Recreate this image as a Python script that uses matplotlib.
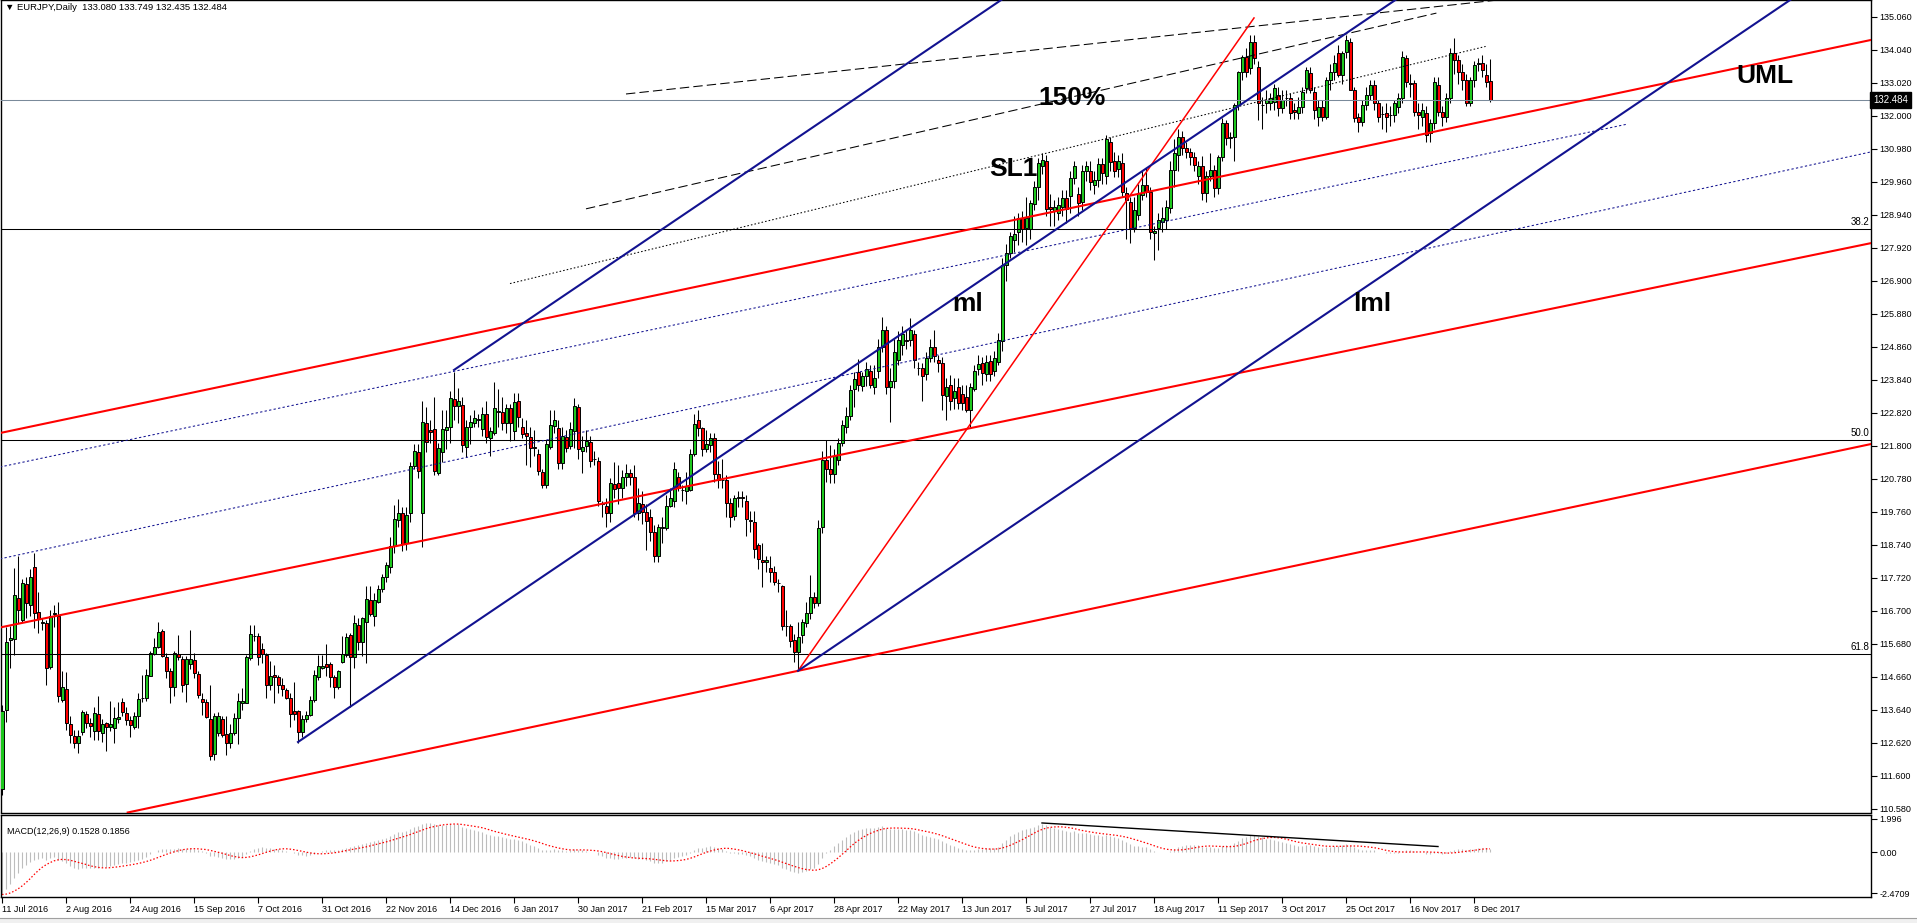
import numpy as np
import pandas as pd
import matplotlib
matplotlib.use('Agg')
import matplotlib.pyplot as plt

plt.rcParams['font.family'] = ['Liberation Sans', 'DejaVu Sans']

# ---------------- data ----------------
opens = [111.2,113.64,115.8,115.83,117.1,116.42,117.53,116.89,118.05,116.66,
116.35,116.32,114.96,116.6,116.56,113.95,114.28,113.21,112.84,112.63,
112.97,113.51,113.23,113.0,113.52,112.94,113.23,113.1,113.08,113.36,
113.88,113.56,113.33,113.11,113.44,114.02,114.0,114.7,115.37,115.58,
116.08,115.29,114.83,114.36,115.36,115.21,114.45,115.07,115.19,114.76,
113.97,113.88,113.36,112.28,112.92,113.36,112.9,112.61,112.92,113.39,
113.87,113.87,115.24,115.94,115.93,115.52,115.34,114.42,114.72,114.65,
114.42,114.26,114.02,113.61,113.61,112.97,113.36,113.49,113.95,114.65,
114.93,115.07,115.07,114.65,114.34,115.11,115.34,115.96,115.27,116.27,
115.75,116.37,117.04,116.56,116.99,117.37,117.74,118.05,118.71,119.51,
119.72,118.79,119.72,121.18,121.61,119.72,122.5,122.29,122.34,120.98,
121.6,122.29,122.4,123.24,123.04,123.07,121.76,122.38,122.5,122.62,
122.33,122.78,122.04,122.19,122.86,122.84,122.5,122.96,122.27,123.19,
122.4,122.19,122.07,121.77,121.54,121.0,120.58,121.78,122.42,122.35,
121.28,122.09,121.8,122.26,123.0,121.66,121.8,121.91,121.4,121.35,
120.03,119.96,119.74,120.62,120.65,120.49,120.85,120.98,120.83,119.72,
120.0,119.77,119.62,119.15,118.4,119.28,119.26,119.93,120.11,120.85,
120.44,120.41,120.44,121.54,122.6,122.35,121.7,121.83,122.04,120.92,
120.75,120.75,120.05,119.65,120.18,120.23,120.11,119.5,119.44,118.74,
118.29,118.2,118.02,117.92,117.56,117.47,116.23,116.23,115.8,115.44,
115.96,116.32,116.63,117.14,116.95,119.3,121.38,121.1,120.93,121.38,
121.88,122.39,122.73,123.57,124.1,123.66,123.96,124.13,123.63,124.13,
124.86,125.37,123.63,123.8,124.47,124.92,125.07,125.09,125.25,124.22,
124.21,124.02,124.52,124.86,124.47,124.35,123.34,123.68,123.29,123.63,
123.4,123.32,122.9,123.57,124.19,124.38,124.04,124.43,124.13,124.41,
125.03,127.39,127.75,128.17,128.4,128.85,128.54,128.51,129.27,129.8,
130.45,130.62,129.18,129.07,129.01,129.18,129.46,129.52,130.08,129.58,
129.35,130.3,130.3,129.86,130.03,130.53,130.14,131.2,130.61,130.36,
130.55,129.63,129.35,128.53,128.94,129.56,129.87,129.66,128.37,128.53,
128.73,128.79,129.15,130.33,130.79,131.36,131.0,130.9,130.74,130.13,
130.45,129.61,130.13,130.33,129.76,130.74,131.77,131.31,131.36,132.34,
133.37,133.83,133.47,134.3,133.52,132.34,132.39,132.39,132.44,132.65,
132.24,132.55,132.55,132.19,132.08,132.27,132.86,133.32,132.75,131.98,
132.29,131.98,133.11,133.37,133.94,133.27,133.99,134.3,132.8,131.98,
131.82,132.34,132.65,132.96,132.39,132.05,132.08,132.03,132.03,132.29,
132.55,133.78,133.01,133.01,132.13,131.98,132.08,131.46,131.77,132.96,
132.13,131.98,132.55,133.94,133.73,133.37,133.11,132.39,133.11,133.6,
133.63,133.27,133.08]

highs = [113.8,116.22,116.24,118.02,118.4,117.7,117.76,117.99,118.48,117.3,
116.48,116.42,116.73,116.89,116.97,114.83,114.8,113.44,113.02,113.02,
113.64,113.62,113.39,113.73,114.06,113.35,113.28,113.92,113.72,113.88,
114.0,113.72,113.44,113.59,114.16,114.72,114.9,115.45,115.86,116.35,
116.14,115.39,114.93,115.45,115.96,115.32,115.32,116.12,115.41,114.83,
114.16,113.97,114.42,113.54,113.59,113.44,113.44,113.2,113.54,114.18,
114.31,115.34,116.27,116.27,116.01,115.7,115.39,115.14,115.03,114.72,
114.62,114.31,114.18,114.52,113.64,113.49,113.62,114.06,114.88,115.34,
115.34,115.68,115.12,114.72,114.88,115.93,116.01,116.01,116.58,116.48,
116.51,117.48,117.48,117.25,117.5,117.85,118.2,119.0,119.97,120.15,
119.9,119.9,121.3,121.85,121.86,123.19,123.0,122.6,123.3,121.9,
122.9,122.9,123.5,124.1,123.6,123.3,122.6,122.75,122.9,122.8,
123.0,123.2,122.4,123.77,123.55,123.3,123.1,123.1,123.45,123.45,
122.65,122.6,122.4,122.3,121.7,121.1,122.0,122.9,122.9,122.6,
122.4,122.3,122.55,123.28,123.1,122.1,122.3,122.1,121.65,121.45,
120.1,120.2,120.8,121.31,121.2,121.05,121.25,121.1,121.2,120.5,
120.4,120.0,119.85,119.35,119.4,119.6,120.3,120.5,121.3,121.0,
120.6,121.0,121.7,122.8,122.9,122.4,122.3,122.2,122.2,121.35,
121.4,120.9,120.2,120.3,120.4,120.4,120.3,119.8,119.8,118.8,
118.8,118.4,118.4,118.1,117.7,117.5,116.72,116.3,116.0,116.37,
116.45,116.99,117.81,117.3,119.5,121.66,122.0,121.83,121.7,122.05,
122.6,123.0,123.68,124.1,124.5,124.1,124.4,124.3,124.3,125.1,
125.8,125.5,124.2,125.1,125.35,125.5,125.4,125.75,125.4,124.4,
124.35,124.7,125.1,125.4,124.6,124.55,123.9,124.0,123.9,123.9,
123.7,123.7,123.75,124.3,124.6,124.55,124.6,124.6,124.75,125.3,
127.6,128.05,128.4,128.9,129.0,129.05,129.5,129.4,130.0,130.7,
130.85,130.8,129.6,129.4,129.5,129.7,129.7,130.3,130.6,129.8,
130.5,130.6,130.6,130.3,130.7,130.7,131.4,131.35,130.9,130.8,
130.85,129.8,129.5,129.5,129.9,130.3,130.4,129.8,128.6,129.0,
129.2,129.4,130.6,131.3,131.6,131.55,131.2,131.0,130.9,130.6,
130.75,130.3,130.85,130.5,130.8,131.95,131.88,131.5,132.4,133.4,
133.9,134.1,134.5,134.5,133.7,132.6,132.8,132.7,133.0,132.9,
132.8,132.8,132.7,132.4,132.6,132.9,133.5,133.5,132.9,132.5,
132.5,133.2,133.6,133.9,134.2,134.0,134.5,134.4,132.9,132.1,
132.5,132.9,133.1,133.1,132.5,132.3,132.4,132.3,132.5,132.7,
134.0,133.9,133.3,133.1,132.4,132.4,132.3,131.9,133.2,133.2,
132.3,132.7,134.1,134.4,133.9,133.6,133.3,133.2,133.7,133.8,
133.9,133.6,133.749]

lows = [111.0,113.28,114.93,115.34,116.32,116.37,116.48,116.53,116.17,116.01,
116.12,114.42,114.9,116.22,113.9,113.9,113.02,112.61,112.46,112.3,
112.87,113.07,112.82,112.72,112.72,112.66,112.36,112.99,112.63,113.23,
113.44,113.18,112.8,113.06,113.08,113.9,113.93,114.7,115.34,115.55,
115.27,114.62,113.85,114.06,115.19,114.21,113.9,114.9,114.62,114.0,
113.49,113.39,112.08,112.1,112.85,112.82,112.25,112.46,112.87,112.59,
113.64,113.85,115.19,115.78,115.03,115.08,114.0,114.26,113.85,114.18,
114.06,113.98,113.11,113.33,112.63,112.82,113.26,113.44,113.9,114.57,
114.9,114.7,114.36,114.0,114.28,115.09,115.29,113.73,114.95,115.5,
115.31,115.1,116.55,116.25,116.94,117.3,117.6,117.88,118.5,119.3,
118.55,118.6,119.44,121.1,120.8,118.69,121.6,121.9,120.9,120.9,
121.3,121.7,121.9,122.6,122.5,121.6,121.45,121.85,122.4,122.4,
122.1,121.9,121.5,122.15,122.4,122.3,122.2,121.95,122.0,122.4,
122.05,121.21,121.14,121.5,120.9,120.5,120.5,121.7,122.2,121.1,
121.1,121.6,121.7,121.75,121.4,120.95,121.6,121.15,121.2,119.95,
119.6,119.3,119.45,120.2,120.0,120.2,120.55,120.6,119.6,119.5,
119.4,118.6,118.85,118.2,118.2,118.8,119.2,119.9,119.9,120.4,
120.1,120.0,120.4,121.5,122.1,121.5,121.6,121.6,120.7,120.5,
120.5,119.6,119.3,119.5,119.9,119.9,119.02,119.13,118.35,118.01,
117.45,117.9,117.6,117.5,117.3,116.1,115.93,115.6,115.13,114.88,
115.7,116.2,116.44,116.8,116.85,119.1,120.7,120.65,120.65,121.2,
121.8,122.2,122.6,123.0,123.5,123.5,123.65,123.6,123.4,123.9,
124.7,123.4,122.55,123.6,124.3,124.6,124.8,124.9,124.2,124.0,
123.2,123.85,124.4,124.4,124.1,122.9,122.6,122.9,122.95,122.95,
122.9,122.85,122.4,123.5,124.0,123.7,123.8,123.8,123.95,124.3,
124.75,126.9,127.6,127.8,128.0,128.1,128.0,128.2,129.1,129.4,
130.2,128.9,128.6,128.6,128.8,128.9,128.7,129.0,129.9,128.9,
129.1,130.0,129.7,129.6,129.8,129.9,129.9,130.3,130.1,130.1,
129.5,128.2,128.06,128.4,128.8,129.4,129.5,128.2,127.55,127.85,
128.4,128.5,129.0,129.8,130.3,130.8,130.7,130.5,130.3,129.9,
129.4,129.35,130.0,129.5,129.6,130.6,131.1,131.0,130.6,132.2,
133.1,133.2,133.3,133.6,131.88,131.6,132.1,132.2,132.2,132.0,
132.1,132.3,131.9,131.9,131.9,132.1,132.7,132.7,131.9,131.7,
131.85,131.9,132.8,133.1,133.2,133.0,133.8,132.8,131.8,131.5,
131.7,132.2,132.5,132.2,131.8,131.6,131.5,131.7,131.8,132.1,
132.4,132.9,132.6,132.0,131.6,131.7,131.2,131.2,131.6,132.0,
131.7,131.8,132.4,133.3,133.0,132.8,132.3,132.3,132.9,133.4,
133.2,132.9,132.435]

closes = [113.6,115.75,115.85,117.2,116.73,117.56,116.94,117.74,116.63,116.45,
116.33,114.93,116.53,116.65,114.06,114.34,113.23,112.87,112.63,112.84,
113.57,113.25,113.16,113.54,113.0,113.2,113.1,113.21,113.39,113.42,
113.57,113.33,113.18,113.44,113.97,114.0,114.72,115.39,115.6,116.04,
115.31,114.83,114.36,115.39,115.27,114.42,115.21,115.21,114.78,114.09,
113.88,113.42,112.23,113.44,113.44,112.87,112.61,112.92,113.39,113.92,
113.93,115.27,115.98,115.93,115.27,115.37,114.42,114.7,114.67,114.42,
114.28,114.02,113.52,113.51,112.95,113.36,113.49,113.95,114.72,115.01,
115.0,114.96,114.65,114.34,114.83,115.36,115.91,115.27,116.32,115.75,
116.48,117.06,116.61,117.04,117.37,117.76,118.12,118.71,119.53,119.72,
118.77,119.67,121.18,121.63,121.03,122.53,121.93,122.24,121.03,121.73,
122.33,122.4,123.27,123.04,123.19,121.83,122.4,122.53,122.66,122.6,
122.78,122.07,122.26,122.98,122.88,122.5,122.96,122.5,123.15,122.69,
122.16,122.11,121.73,121.75,121.03,120.6,121.85,122.45,122.6,121.28,
122.12,121.73,122.32,123.04,121.71,121.78,121.95,121.33,121.4,120.1,
120.0,119.74,120.65,120.47,120.51,120.85,120.97,120.85,119.72,120.03,
119.77,119.48,119.15,118.4,119.31,119.3,119.93,120.19,121.09,120.51,
120.43,120.56,121.54,122.47,122.35,121.7,121.85,122.04,120.94,120.75,
120.74,120.05,119.62,120.18,120.23,120.2,119.53,119.47,118.63,118.31,
118.2,118.29,117.92,117.61,117.55,116.23,116.25,115.78,115.44,115.91,
116.37,116.63,117.14,116.94,119.27,121.36,121.1,120.93,121.49,121.88,
122.44,122.73,123.53,123.88,123.68,123.96,124.19,123.68,123.9,124.86,
125.37,123.63,123.8,124.69,125.09,125.25,125.05,125.37,124.47,124.21,
123.96,124.52,124.86,124.58,124.35,123.38,123.63,123.18,123.5,123.14,
123.14,122.9,123.63,124.13,124.33,124.05,124.41,124.04,124.52,125.09,
127.39,127.75,128.29,128.34,128.85,128.51,128.85,129.3,129.8,130.55,
130.64,129.13,129.13,129.18,129.24,129.46,129.13,130.08,130.44,129.3,
130.3,130.44,129.97,130.03,130.53,130.25,131.3,130.59,130.3,130.61,
129.66,129.4,128.53,129.1,129.61,129.87,129.66,128.42,128.43,128.79,
128.84,129.2,130.33,130.85,131.36,131.0,130.9,130.74,130.5,130.45,
129.61,130.13,130.33,129.76,130.74,131.77,131.31,131.36,132.34,133.37,
133.83,133.37,134.3,133.78,132.39,132.34,132.49,132.55,132.86,132.24,
132.49,132.55,132.08,132.13,132.27,132.75,133.42,132.8,132.19,132.29,
131.98,133.11,133.37,133.63,133.27,133.94,134.35,132.8,131.93,131.82,
132.34,132.65,132.96,132.39,131.98,132.05,131.98,132.03,132.39,132.55,
133.83,133.06,133.0,132.13,132.03,132.19,131.41,131.77,133.06,132.13,
131.98,132.55,133.94,133.73,133.37,133.11,132.39,133.11,133.58,133.63,
133.42,133.06,132.484]

# closes before the visible window (warm-up for the MACD indicator)
hist_close = [124.5,124.0,124.2,124.4,124.8,125.2,125.6,125.0,124.7,124.4,
124.5,124.5,125.3,124.9,124.9,124.2,124.2,124.1,124.0,124.2,
124.4,124.6,123.6,123.0,121.8,122.3,122.7,122.2,121.6,120.9,
120.3,119.9,120.2,118.4,118.9,119.9,119.7,119.7,122.0,113.6,
112.4,112.9,113.5,114.2,113.8,113.9,112.7,112.2,112.0,111.2]

date_labels = ['11 Jul 2016','2 Aug 2016','24 Aug 2016','15 Sep 2016','7 Oct 2016',
'31 Oct 2016','22 Nov 2016','14 Dec 2016','6 Jan 2017','30 Jan 2017','21 Feb 2017',
'15 Mar 2017','6 Apr 2017','28 Apr 2017','22 May 2017','13 Jun 2017','5 Jul 2017',
'27 Jul 2017','18 Aug 2017','11 Sep 2017','3 Oct 2017','25 Oct 2017','16 Nov 2017','8 Dec 2017']
label_every = 16

price_ticks = [135.060,134.040,133.020,132.000,130.980,129.960,128.940,127.920,126.900,
125.880,124.860,123.840,122.820,121.800,120.780,119.760,118.740,117.720,116.700,
115.680,114.660,113.640,112.620,111.600,110.580]
macd_ticks = [1.996, 0.0, -2.4709]
macd_tick_labels = ['1.996', '0.00', '-2.4709']

fib_levels = [128.51, 121.99, 115.37]
fib_names = ['38.2', '50.0', '61.8']
last_price = 132.484

# drawn objects: (bar, price) anchors
red_fork = [((-0.5, 122.20), (467.25, 134.35)),
            ((-0.5, 116.19), (467.25, 128.07)),
            ((199, 114.85), (467.25, 121.86))]
red_steep = ((199, 114.85), (313, 135.03))
blue_starts = [(113, 124.15), (74, 112.65), (199, 114.85)]
blue_slope = 0.0836
navy_dotted = [((-0.5, 121.15), (406, 131.74)),
               ((-0.5, 118.31), (467.25, 130.89))]
black_long_dash = [((156, 132.68), (374, 135.585)),
                   ((146, 129.13), (358.6, 135.18))]
black_fine_dot = [((127, 126.82), (370.9, 134.15))]
macd_trend = ((260, 1.75), (359, 0.33))

labels_text = [('150%', 267.5, 132.56), ('SL1', 252.75, 130.36), ('ml', 241.5, 126.18),
               ('lml', 342.5, 126.18), ('UML', 440.75, 133.23)]

# ---------------- figure ----------------
W, H = 1917, 923
fig = plt.figure(figsize=(W/100, H/100), dpi=100)
fig.patch.set_facecolor('white')

ax = fig.add_axes([1/W, 1-812.5/H, 1870/W, 812.5/H])
axm = fig.add_axes([1/W, 1-897/H, 1870/W, (897-815)/H])

n = len(closes)
x = np.arange(n)
o = np.array(opens); h = np.array(highs); l = np.array(lows); c = np.array(closes)
up = c >= o

ax.vlines(x, l, h, color='black', lw=0.75, zorder=2)
body_col = np.where(up, '#1EC81E', '#FF0000')
ax.bar(x, c - o, bottom=o, width=0.75, color=body_col, edgecolor='black',
       linewidth=0.7, zorder=3)

XL = (-0.25, 467.25)
YL = (110.471, 135.585)
ax.set_xlim(*XL)
ax.set_ylim(*YL)

lw1 = 0.75
lw2 = 1.5
for lev, nm in zip(fib_levels, fib_names):
    ax.axhline(lev, color='black', lw=lw1, zorder=4)
    ax.text(466.8, lev + 0.06, nm, ha='right', va='bottom', fontsize=7, zorder=6)
ax.axhline(last_price, color='#7A8A9A', lw=lw1, zorder=4)

for p1, p2 in red_fork:
    ax.axline(p1, p2, color='#FF0000', lw=lw2, zorder=5)
ax.plot([red_steep[0][0], red_steep[1][0]], [red_steep[0][1], red_steep[1][1]],
        color='#FF0000', lw=1.1, zorder=5)
for bx, by in blue_starts:
    ex = bx + 400
    ax.plot([bx, ex], [by, by + blue_slope*(ex-bx)], color='#121290', lw=lw2, zorder=5)
for p1, p2 in navy_dotted:
    ax.plot([p1[0], p2[0]], [p1[1], p2[1]], color='#121290', lw=lw1,
            ls=(0, (2.2, 2.2)), zorder=4)
for p1, p2 in black_long_dash:
    ax.plot([p1[0], p2[0]], [p1[1], p2[1]], color='black', lw=lw1,
            ls=(0, (9, 4)), zorder=4)
for p1, p2 in black_fine_dot:
    ax.plot([p1[0], p2[0]], [p1[1], p2[1]], color='black', lw=lw1,
            ls=(0, (1.5, 2)), zorder=4)

for t, bx, by in labels_text:
    ax.text(bx, by, t, ha='center', va='center', fontsize=19, fontweight='bold',
            color='black', zorder=7)

ax.yaxis.tick_right()
ax.set_yticks(price_ticks)
ax.set_yticklabels([f'{v:.3f}' for v in price_ticks])
ax.tick_params(axis='y', direction='out', length=4, width=0.8, pad=2, labelsize=6.5)
ax.set_xticks([])
for s in ax.spines.values():
    s.set_linewidth(1.0); s.set_color('black')

ax.text(1.0012, last_price, f'{last_price:.3f}', transform=ax.get_yaxis_transform(),
        ha='left', va='center', fontsize=7, color='white', zorder=8,
        bbox=dict(boxstyle='square,pad=0.3', fc='black', ec='black'), clip_on=False)

fig.text(5/W, 1-8/H, '\u25bc EURJPY,Daily  133.080 133.749 132.435 132.484',
         fontsize=6.8, ha='left', va='center')

# ---------------- MACD ----------------
allc = np.array(hist_close + closes)
def ema(a, span):
    k = 2.0/(span+1)
    out = np.empty_like(a)
    out[0] = a[0]
    for i in range(1, len(a)):
        out[i] = a[i]*k + out[i-1]*(1-k)
    return out
macd_all = ema(allc, 12) - ema(allc, 26)
sig_all = pd.Series(macd_all).rolling(9).mean().values
macd = macd_all[len(hist_close):]
sig = sig_all[len(hist_close):]

axm.vlines(x, 0, macd, color='#BDBDBD', lw=0.8)
axm.plot(x, sig, color='#FF0000', lw=0.9, ls=(0, (1.2, 1.6)))
axm.plot([macd_trend[0][0], macd_trend[1][0]], [macd_trend[0][1], macd_trend[1][1]],
         color='black', lw=1.0)
axm.set_xlim(*XL)
axm.set_ylim(-2.71, 2.23)
axm.yaxis.tick_right()
axm.set_yticks(macd_ticks)
axm.set_yticklabels(macd_tick_labels)
axm.tick_params(axis='y', direction='out', length=4, width=0.8, pad=2, labelsize=6.5)
tick_pos = np.arange(len(date_labels))*label_every
axm.set_xticks(tick_pos)
axm.set_xticklabels(date_labels, ha='left')
axm.tick_params(axis='x', direction='out', length=4, width=0.8, pad=1.5, labelsize=6.5)
for s in axm.spines.values():
    s.set_linewidth(1.0); s.set_color('black')
axm.text(0.003, 0.8, 'MACD(12,26,9) 0.1528 0.1856', transform=axm.transAxes,
         fontsize=6.5, ha='left', va='center')

# bottom window strip
fig.patches.append(plt.Rectangle((0, 0), 1, 5/H, transform=fig.transFigure,
                                 facecolor='#F0F0F0', edgecolor='none'))
fig.add_artist(plt.Line2D([0, 1], [5.5/H, 5.5/H], transform=fig.transFigure,
                          color='#A0A0A0', lw=0.8))

fig.savefig('out.png', dpi=100, facecolor='white')
